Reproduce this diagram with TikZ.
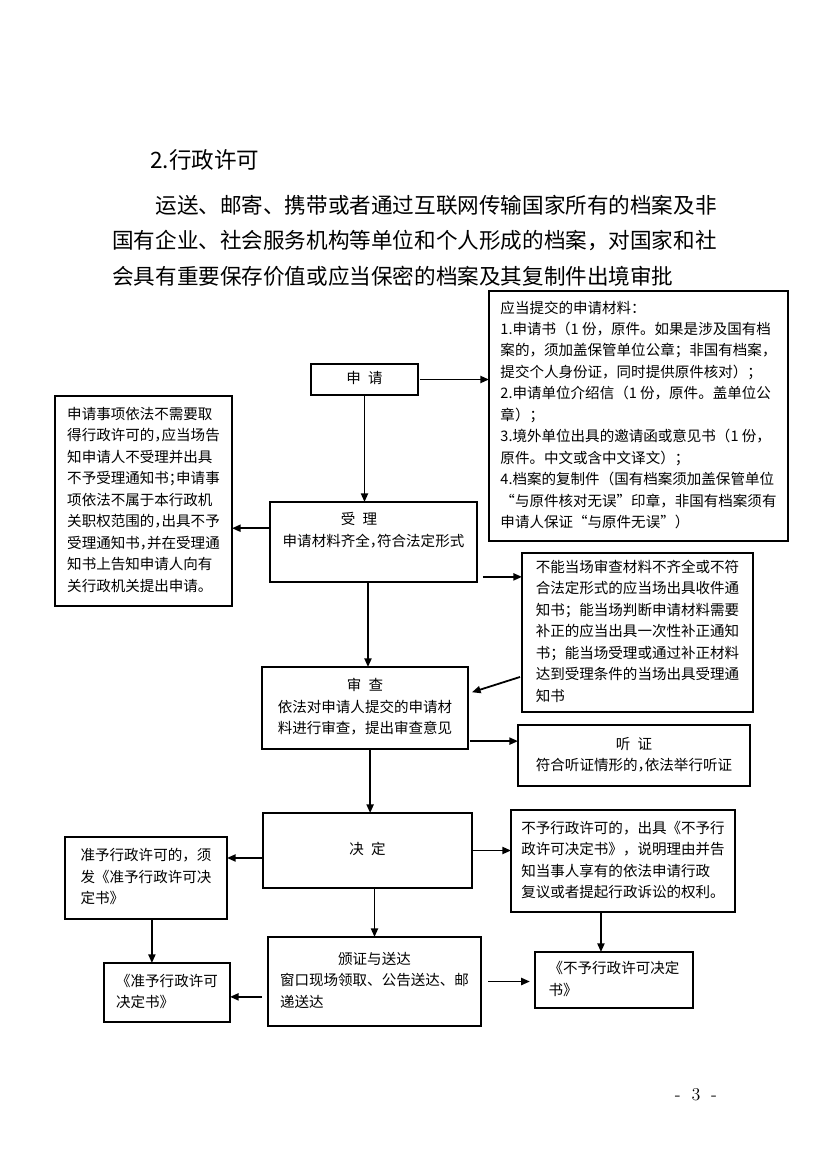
\documentclass[tikz,border=0pt]{standalone}
\usepackage{fontspec}
\newfontfamily\cjk{Noto Sans CJK SC}
\usetikzlibrary{arrows.meta}

% half-width punctuation
\newcommand\halfw[1]{\makebox[0.5em][l]{#1}}
% text blocks inside the boxes
\newcommand\lft[1]{\begin{tabular}{@{}l@{}}#1\end{tabular}}
\newcommand\ctr[1]{\begin{tabular}{@{}c@{}}#1\end{tabular}}

\tikzset{
  box/.style={draw, line width=1.4pt, inner sep=0pt, outer sep=0pt,
    font=\cjk\fontsize{10.5pt}{15.5pt}\selectfont},
  wh/.style 2 args={minimum width=#1*0.254mm, minimum height=#2*0.254mm},
  arr/.style={-{Triangle[length=2.2mm,width=1.8mm]}, line width=1.3pt},
}

\begin{document}
\begin{tikzpicture}[x=0.254mm, y=-0.254mm]
    % Page
    \useasboundingbox[fill=white] (0,0) rectangle (827,1169);

    % Heading
    \node[anchor=west, inner sep=0pt, font=\cjk\fontsize{16.3pt}{20pt}\selectfont] (title) at (150,160) {2.行政许可};
    \node[anchor=north west, inner sep=0pt, align=left, font=\cjk\fontsize{15.6pt}{25.6pt}\selectfont] (intro) at (112,195)
      {\hspace*{2em}运送、邮寄、携带或者通过互联网传输国家所有的档案及非\\
       国有企业、社会服务机构等单位和个人形成的档案，对国家和社\\
       会具有重要保存价值或应当保密的档案及其复制件出境审批};

    % Boxes
    \node[box, wh={107}{31}] (shenqing) at (364.5,379.5) {\ctr{申\hspace{0.5em}请}};
    \node[box, wh={299}{250}] (cailiao) at (638.5,416)
      {\lft{应当提交的申请材料：\\
       1.申请书（1 份，原件。如果是涉及国有档\\
       案的，须加盖保管单位公章；非国有档案，\\
       提交个人身份证，同时提供原件核对）；\\
       2.申请单位介绍信（1 份，原件。盖单位公\\
       章）；\\
       3.境外单位出具的邀请函或意见书（1 份，\\
       原件。中文或含中文译文）；\\
       4.档案的复制件（国有档案须加盖保管单位\\
       “与原件核对无误”印章，非国有档案须有\\
       申请人保证“与原件无误”）}};
    \node[box, wh={177}{210}] (bushouli) at (143.5,501)
      {\lft{申请事项依法不需要取\\
       得行政许可的\halfw{，}应当场告\\
       知申请人不受理并出具\\
       不予受理通知书\halfw{；}申请事\\
       项依法不属于本行政机\\
       关职权范围的\halfw{，}出具不予\\
       受理通知书\halfw{，}并在受理通\\
       知书上告知申请人向有\\
       关行政机关提出申请。}};
    \node[box, wh={207}{80}] (shouli) at (373.5,542)
      {\lft{\hspace*{4em}受\hspace{0.5em}理\\
       申请材料齐全\halfw{，}符合法定形式\\ \mbox{}}};
    \node[box, wh={231}{159}] (buqi) at (637.5,632.5)
      {\lft{不能当场审查材料不齐全或不符\\
       合法定形式的应当场出具收件通\\
       知书；能当场判断申请材料需要\\
       补正的应当出具一次性补正通知\\
       书；能当场受理或通过补正材料\\
       达到受理条件的当场出具受理通\\
       知书}};
    \node[box, wh={206}{82}] (shencha) at (365,708)
      {\ctr{审\hspace{0.5em}查\\
       依法对申请人提交的申请材\\
       料进行审查，提出审查意见}};
    \node[box, wh={232}{61}] (tingzheng) at (634,755.5)
      {\ctr{听\hspace{0.5em}证\\
       符合听证情形的\halfw{，}依法举行听证}};
    \node[box, wh={209}{75}] (jueding) at (367.5,850.5) {\ctr{决\hspace{0.5em}定}};
    \node[box, wh={162}{82}] (zhunyu) at (146,878)
      {\lft{准予行政许可的，须\\
       发《准予行政许可决\\
       定书》}};
    \node[box, wh={126}{59}] (zhunyushu) at (167,992.5)
      {\lft{《准予行政许可\\
       决定书》}};
    \node[box, wh={213}{89}] (banzheng) at (374.5,981.5)
      {\lft{\hspace*{4em}颁证与送达\\
       窗口现场领取、公告送达、邮\\
       递送达}};
    \node[box, wh={224}{102}] (buyu) at (623,861)
      {\lft{不予行政许可的，出具《不予行\\
       政许可决定书》，说明理由并告\\
       知当事人享有的依法申请行政\\
       复议或者提起行政诉讼的权利。}};
    \node[box, wh={158}{56}] (buyushu) at (614,980)
      {\lft{《不予行政许可决定\\
       书》}};

    % Page number
    \node[inner sep=0pt, font=\fontsize{13pt}{15pt}\selectfont] (pagenum) at (696,1095) {-\hspace{0.6em}3\hspace{0.6em}-};

    % Connectors
    \coordinate (s1) at ([xshift=0.5mm]shenqing.east);
    \draw[arr] (s1) -- (s1 -| cailiao.west);
    \draw[arr] (shenqing.south) -- (shenqing.south |- shouli.north);
    \coordinate (s2) at ([yshift=3.5mm]shouli.west);
    \draw[arr] (s2) -- (s2 -| bushouli.east);
    \coordinate (s3) at ([xshift=1.5mm,yshift=1.3mm]shouli.south east);
    \draw[arr] (s3) -- (s3 -| buqi.west);
    \coordinate (s4) at ([xshift=-1.4mm]shouli.south);
    \draw[arr] (s4) -- (s4 |- shencha.north);
    \draw[arr] ([xshift=-0.5mm,yshift=8.9mm]buqi.south west) -- ([xshift=1mm,yshift=4mm]shencha.east);
    \coordinate (s5) at ([xshift=0.5mm,yshift=2mm]shencha.south east);
    \draw[arr] (s5) -- (s5 -| tingzheng.west);
    \coordinate (s6) at ([xshift=1.3mm]shencha.south);
    \draw[arr] (s6) -- (s6 |- jueding.north);
    \coordinate (s7) at ([yshift=-1.9mm]jueding.west);
    \draw[arr] (s7) -- (s7 -| zhunyu.east);
    \draw[arr] (jueding.east) -- (jueding.east -| buyu.west);
    \draw[arr] (banzheng.north |- jueding.south) -- (banzheng.north);
    \coordinate (s8) at ([xshift=1.5mm]zhunyu.south);
    \draw[arr] (s8) -- (s8 |- zhunyushu.north);
    \coordinate (s9) at ([xshift=-1.5mm,yshift=-3.9mm]banzheng.west);
    \draw[arr] (s9) -- (s9 -| zhunyushu.east);
    \coordinate (s10) at ([xshift=1.8mm]banzheng.east);
    \draw[arr, shorten >=1.3mm] (s10) -- (s10 -| buyushu.west);
    \coordinate (s11) at ([xshift=-5.6mm]buyu.south);
    \draw[arr] (s11) -- (s11 |- buyushu.north);
\end{tikzpicture}
\end{document}
